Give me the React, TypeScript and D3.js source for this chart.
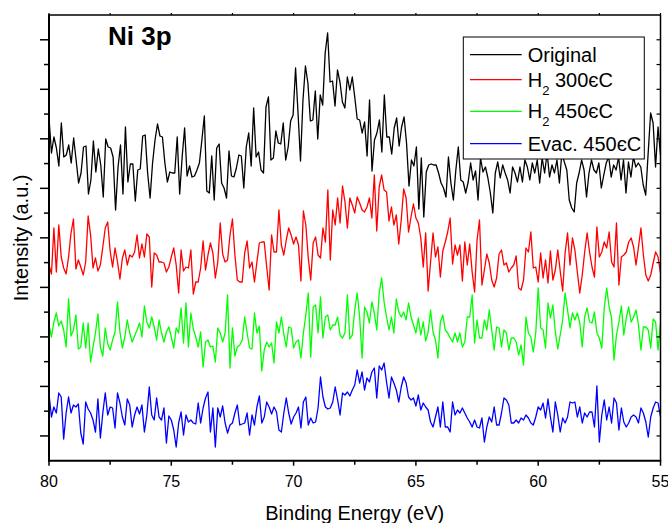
import React from 'react';
import * as d3 from 'd3';

// Binding energy axis
const xMajorTicks = [80, 75, 70, 65, 60, 55];
const xMinorTicks = [77.5, 72.5, 67.5, 62.5, 57.5];
const xStart = 80;
const xEnd = 55;

// Series (intensity, arbitrary counts), evenly spaced from 80 eV to 55 eV
const original = [
  882,847,863,852,834,877,843,845,855,837, 862,840,817,827,853,854,806,820,859,828,
  851,835,803,861,853,852,843,790,833,855, 806,873,818,836,836,799,830,831,864,865,
  827,802,837,860,876,864,863,837,818,828, 827,827,863,806,843,872,824,834,823,824,
  830,837,860,884,809,807,844,800,852,856, 817,812,802,849,824,823,832,845,
  844,812,853,867,834,892,843,848,830,827, 893,903,840,842,869,857,856,877,840,853,
  879,885,932,887,839,900,934,917,879,880, 909,861,905,895,947,967,918,919,894,930,
  918,898,892,923,910,923,903,881,880,867, 878,844,900,829,860,867,880,848,905,863,
  863,846,872,882,854,873,883,857,814,840, 834,853,791,842,783,828,835,836,835,835,
  827,817,812,803,843,817,800,830,853,820,
  818,807,818,837,820,829,800,842,828,833, 822,807,787,827,838,822,835,827,820,807,
  833,827,818,833,818,840,833,820,837,827, 840,817,842,827,847,823,835,827,840,817,
  847,838,830,800,792,788,817,827,840,830, 803,827,840,830,827,837,812,825,837,843,
  823,835,830,843,820,840,807,838,823,843, 833,837,833,815,805,847,887,877,833,873,845,
];

const h2_300 = [
  735,726,772,728,775,743,732,726,743,767, 781,731,740,733,725,738,784,765,732,742,
  729,735,753,772,778,749,733,752,738,721, 742,750,735,745,743,748,765,742,756,743,
  766,763,713,747,745,738,738,737,728,733, 743,752,735,707,750,729,733,732,750,706,
  718,718,
  732,759,730,745,757,747,722,738,777,746, 738,740,765,781,745,720,718,718,747,759,
  732,738,718,738,757,758,758,733,710,765, 748,748,790,755,745,760,772,765,756,763,
  755,719,789,775,742,720,757,763,745,742, 772,758,810,740,790,775,802,777,814,798,
  772,802,795,
  787,803,797,790,788,793,802,782,825,769, 813,825,810,808,779,793,775,785,756,780,
  811,802,768,783,796,782,777,762,733,767, 709,738,767,743,753,723,749,758,768,782,
  736,755,745,755,719,758,735,756,728,708, 760,780,715,730,746,737,720,713,722,746,
  750,735,737,
  728,732,735,744,712,710,720,752,748,768, 732,733,718,747,722,740,717,749,720,730,
  750,729,709,747,767,735,762,750,728,707, 725,748,767,748,733,723,773,743,748,758,
  752,768,738,733,777,715,743,745,748,758, 762,753,735,753,772,745,725,719,725,737,
  748,743,727,
];

const h2_450 = [
  675,663,678,687,674,679,670,653,701,664, 670,685,651,653,677,652,677,638,653,667,
  686,653,644,672,656,650,660,668,698,668, 652,663,680,667,658,664,670,677,663,694,
  678,672,683,673,660,680,667,658,668,673, 663,652,672,667,692,657,697,653,687,671,
  663,653,668,633,658,660,653,654,638,672, 667,658,667,705,632,672,644,653,655,
  660,683,667,652,651,687,667,674,629,650, 658,653,657,637,678,667,683,666,653,673,
  672,652,658,660,642,667,685,707,643,693, 695,667,703,662,683,685,670,675,675,683,
  665,662,667,705,661,665,690,707,683,642, 693,688,677,698,687,670,707,722,698,683,
  670,683,667,701,688,683,688,680,697,683, 675,667,682,665,678,659,668,690,668,660,
  642,678,685,670,667,662,658,667,658,667,
  653,658,683,683,705,657,680,662,662,680, 670,690,670,650,673,672,653,670,667,650,
  662,662,658,645,655,635,683,667,663,648, 667,712,672,670,652,697,682,695,668,651,
  665,680,707,690,672,687,680,687,677,653, 683,692,678,677,688,667,662,652,692,712,
  693,682,640,665,678,694,665,682,693,678, 683,690,675,650,673,673,670,652,681,678,
  650,677,
];

const evac_450 = [
  606,583,593,587,607,603,561,587,603,587, 595,593,596,567,556,598,591,587,580,568,
  601,562,587,607,585,593,592,572,607,597, 583,575,601,595,573,585,593,586,595,568,
  585,613,585,580,602,583,580,592,557,584, 580,570,553,577,588,565,585,578,580,577,
  576,597,577,592,602,608,568,592,553,592, 583,594,577,567,575,577,587,595,575,
  576,577,587,565,585,575,593,604,577,583, 598,593,586,593,588,570,568,587,602,587,
  576,583,587,593,572,598,603,575,582,577, 578,592,623,603,593,591,592,598,613,600,
  585,607,605,608,604,610,615,630,617,628, 610,622,618,628,632,602,634,630,637,618,
  602,623,617,610,598,613,623,617,603,600, 602,594,605,590,597,593,590,578,573,583,
  593,573,598,573,573,568,598,585,590,587,
  592,587,582,578,573,580,573,572,582,558, 573,583,578,593,575,575,587,602,600,595,
  577,577,580,577,582,580,585,582,577,575, 583,593,590,597,582,601,583,568,598,585,
  568,582,577,583,598,597,598,583,593,577, 587,583,588,588,573,614,558,585,600,580,
  593,577,602,597,570,592,578,573,577,583, 585,583,577,592,587,578,563,583,592,598,
  597,583,
];

const seriesColors = ['#000000', '#ff0000', '#00ff00', '#0000ff'];
const legendMain = ['Original', 'H', 'H', 'Evac. 450єC'];
const legendSub = ['', '2', '2', ''];
const legendRest = ['', ' 300єC', ' 450єC', ''];

const yDomain = [539.3, 985];
const yTickStep = 24.76;

const FONT = "'Liberation Sans', Arial, Helvetica, sans-serif";

export default function App() {
  const left = 49, right = 660.5, top = 15, bottom = 460.7;
  const x = d3.scaleLinear().domain([xStart, xEnd]).range([left, right]);
  const y = d3.scaleLinear().domain(yDomain).range([bottom, top]);

  const allSeries = [original, h2_300, h2_450, evac_450];
  const lineFor = (arr: number[]) => {
    const n = arr.length;
    return d3
      .line<number>()
      .x((_, i) => x(xStart - (i * (xStart - xEnd)) / (n - 1)))
      .y((d) => y(d))(arr) as string;
  };

  const yTicks = d3.range(1, 18).map((k) => ({ v: yDomain[0] + k * yTickStep, major: k % 2 === 1 }));

  const legendLineY = [54.7, 79.7, 111.3, 143.7];

  return (
    <svg
      width={668}
      height={523}
      style={{ position: 'absolute', left: 0, top: 0, background: '#fff' }}
      fontFamily={FONT}
    >
      <rect x={0} y={0} width={668} height={523} fill="#fff" />
      {allSeries.map((s, i) => (
        <path key={i} d={lineFor(s)} fill="none" stroke={seriesColors[i]} strokeWidth={1.3} strokeLinejoin="round" />
      ))}

      {/* frame */}
      <line x1={left} x2={right} y1={top} y2={top} stroke="#000" strokeWidth={1.5} />
      <line x1={right} x2={right} y1={top} y2={bottom} stroke="#000" strokeWidth={1.5} />
      <line x1={left} x2={left} y1={top - 0.7} y2={bottom + 1} stroke="#000" strokeWidth={2} />
      <line x1={left - 1} x2={right + 0.75} y1={bottom} y2={bottom} stroke="#000" strokeWidth={2} />

      {/* y ticks */}
      {yTicks.map((t, i) => (
        <g key={i}>
          <line x1={left - (t.major ? 9 : 5)} x2={left} y1={y(t.v)} y2={y(t.v)} stroke="#000" strokeWidth={1.5} />
          <line x1={right - 4} x2={right} y1={y(t.v)} y2={y(t.v)} stroke="#000" strokeWidth={1.2} />
        </g>
      ))}

      {/* x ticks */}
      {xMajorTicks.map((t) => (
        <g key={t}>
          <line x1={x(t)} x2={x(t)} y1={bottom} y2={bottom + 5} stroke="#000" strokeWidth={1.5} />
          <line x1={x(t)} x2={x(t)} y1={top} y2={top - 2} stroke="#000" strokeWidth={1.2} />
          <text x={x(t)} y={487} textAnchor="middle" fontSize={16} fill="#000">
            {t}
          </text>
        </g>
      ))}
      {xMinorTicks.map((t) => (
        <g key={t}>
          <line x1={x(t)} x2={x(t)} y1={bottom} y2={bottom + 4} stroke="#000" strokeWidth={1.5} />
          <line x1={x(t)} x2={x(t)} y1={top} y2={top - 2} stroke="#000" strokeWidth={1.2} />
        </g>
      ))}

      {/* axis titles */}
      <text x={(left + right) / 2} y={520} textAnchor="middle" fontSize={20} fill="#000">
        Binding Energy (eV)
      </text>
      <text
        transform={`translate(28,${(top + bottom) / 2}) rotate(-90)`}
        textAnchor="middle"
        fontSize={20}
        fill="#000"
      >
        Intensity (a.u.)
      </text>

      {/* panel title */}
      <text x={108} y={45} fontSize={26} fontWeight="bold" fill="#000">
        Ni 3p
      </text>

      {/* legend */}
      <rect x={463.3} y={37} width={181} height={122} fill="#fff" stroke="#000" strokeWidth={1} />
      {legendMain.map((m, i) => (
        <g key={i}>
          <line x1={470} x2={521.7} y1={legendLineY[i]} y2={legendLineY[i]} stroke={seriesColors[i]} strokeWidth={1.3} />
          <text x={527.7} y={legendLineY[i] + 7} fontSize={20} fill="#000">
            <tspan>{m}</tspan>
            {legendSub[i] ? (
              <>
                <tspan fontSize={13} dy={8}>
                  {legendSub[i]}
                </tspan>
                <tspan fontSize={20} dy={-8}>
                  {legendRest[i]}
                </tspan>
              </>
            ) : null}
          </text>
        </g>
      ))}
    </svg>
  );
}
